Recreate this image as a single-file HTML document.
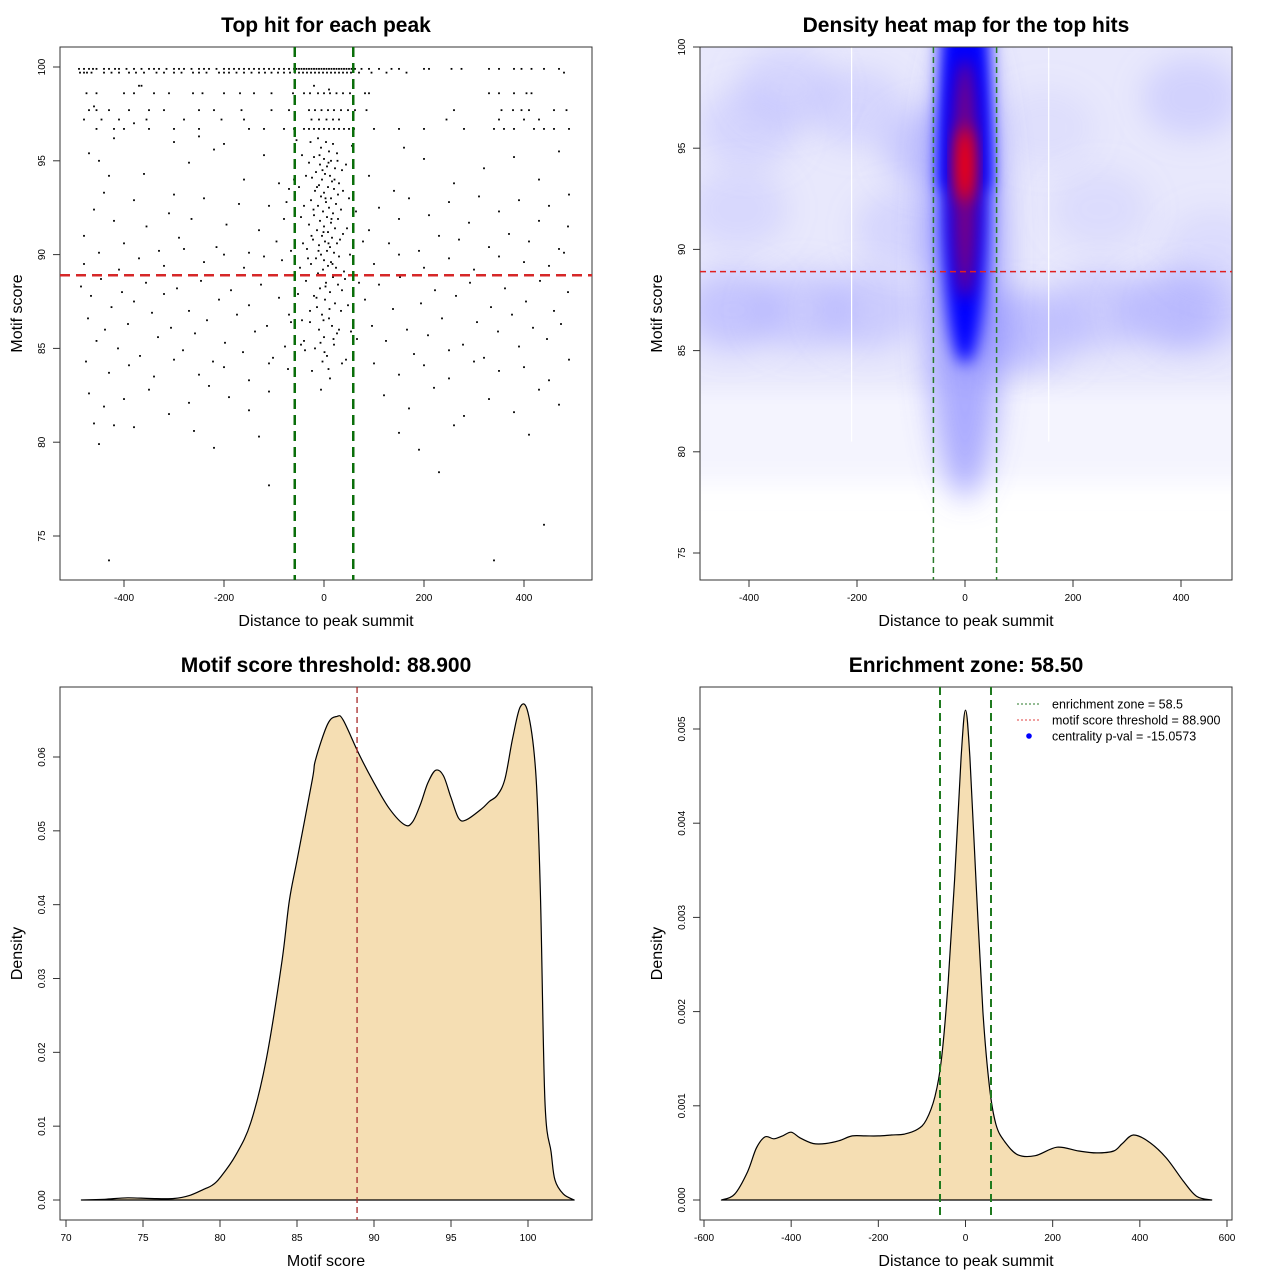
<!DOCTYPE html>
<html><head><meta charset="utf-8">
<style>
html,body{margin:0;padding:0;background:#fff;}
svg{display:block;font-family:"Liberation Sans",sans-serif;}
</style></head>
<body>
<svg id="chart" width="1280" height="1280" viewBox="0 0 1280 1280" xmlns="http://www.w3.org/2000/svg">
<defs>
<filter id="blur15" x="-50%" y="-50%" width="200%" height="200%"><feGaussianBlur stdDeviation="15"/></filter>
<filter id="blur8" x="-50%" y="-50%" width="200%" height="200%"><feGaussianBlur stdDeviation="8"/></filter>
<filter id="blur5" x="-50%" y="-50%" width="200%" height="200%"><feGaussianBlur stdDeviation="5"/></filter>
<filter id="blur12" x="-50%" y="-50%" width="200%" height="200%"><feGaussianBlur stdDeviation="12"/></filter>
<clipPath id="clip2"><rect x="700" y="47" width="532" height="533"/></clipPath>
</defs>
<g id="root"></g>
</svg>
<script>
// ---------- Panel 1 data: top hits as [distance, score] pairs ----------
const topRowHits = [
[-490,99.9],[-480,99.9],[-470,99.9],[-462,99.9],[-455,99.9],[-440,99.9],[-430,99.9],[-418,99.9],[-410,99.9],[-395,99.9],[-380,99.9],[-365,99.9],[-350,99.9],[-340,99.9],[-330,99.9],[-315,99.9],[-300,99.9],[-290,99.9],[-280,99.9],[-265,99.9],[-250,99.9],[-240,99.9],[-230,99.9],[-215,99.9],[-200,99.9],[-190,99.9],[-180,99.9],[-170,99.9],[-160,99.9],[-150,99.9],[-140,99.9],[-130,99.9],[-120,99.9],[-110,99.9],[-100,99.9],[-90,99.9],[-80,99.9],[-70,99.9],[-60,99.9],[-55,99.9],[-50,99.9],[-45,99.9],[-40,99.9],[-35,99.9],[-30,99.9],[-25,99.9],[-20,99.9],[-15,99.9],[-10,99.9],[-5,99.9],[0,99.9],[5,99.9],[10,99.9],[15,99.9],[20,99.9],[25,99.9],[30,99.9],[35,99.9],[40,99.9],[45,99.9],[50,99.9],[55,99.9],[62,99.9],[75,99.9],[90,99.9],[110,99.9],[135,99.9],[150,99.9],[200,99.9],[210,99.9],[255,99.9],[275,99.9],[330,99.9],[350,99.9],[380,99.9],[395,99.9],[415,99.9],[440,99.9],[470,99.9],
[-488,99.7],[-480,99.7],[-474,99.7],[-465,99.7],[-440,99.7],[-425,99.7],[-410,99.7],[-390,99.7],[-376,99.7],[-360,99.7],[-335,99.7],[-320,99.7],[-300,99.7],[-285,99.7],[-262,99.7],[-250,99.7],[-235,99.7],[-210,99.7],[-200,99.7],[-190,99.7],[-175,99.7],[-160,99.7],[-145,99.7],[-130,99.7],[-118,99.7],[-105,99.7],[-92,99.7],[-80,99.7],[-68,99.7],[-58,99.7],[-50,99.7],[-42,99.7],[-34,99.7],[-26,99.7],[-18,99.7],[-10,99.7],[-2,99.7],[6,99.7],[14,99.7],[22,99.7],[30,99.7],[38,99.7],[46,99.7],[54,99.7],[70,99.7],[95,99.7],[125,99.7],[165,99.7],[480,99.7]
];
const levelRowHits = [
[-370,99.0],[-365,99.0],[-20,99.0],[10,98.8],[-40,98.6],[-475,98.6],[-455,98.6],[-400,98.6],[-380,98.6],[-340,98.6],[-310,98.6],[-262,98.6],[-243,98.6],[-200,98.6],[-168,98.6],[-140,98.6],[-105,98.6],[-62,98.6],[-28,98.6],[-12,98.6],[0,98.6],[12,98.6],[25,98.6],[38,98.6],[52,98.6],[82,98.6],[90,98.6],[330,98.6],[350,98.6],[380,98.6],[405,98.6],[415,98.6],
[-470,97.7],[-455,97.7],[-430,97.7],[-390,97.7],[-350,97.7],[-320,97.7],[-250,97.7],[-220,97.7],[-165,97.7],[-105,97.7],[-70,97.7],[-30,97.7],[-18,97.7],[-5,97.7],[8,97.7],[20,97.7],[34,97.7],[48,97.7],[62,97.7],[85,97.7],[260,97.7],[355,97.7],[378,97.7],[395,97.7],[410,97.7],[460,97.7],[485,97.7],
[-480,97.2],[-445,97.2],[-410,97.2],[-355,97.2],[-280,97.2],[-205,97.2],[-160,97.2],[-25,97.2],[-10,97.2],[5,97.2],[18,97.2],[30,97.2],[245,97.2],[350,97.2],[400,97.2],[430,97.2],
[-455,96.7],[-420,96.7],[-400,96.7],[-350,96.7],[-300,96.7],[-250,96.7],[-150,96.7],[-120,96.7],[-80,96.7],[-60,96.7],[-40,96.7],[-30,96.7],[-20,96.7],[-10,96.7],[0,96.7],[10,96.7],[20,96.7],[30,96.7],[40,96.7],[50,96.7],[60,96.7],[100,96.7],[150,96.7],[200,96.7],[280,96.7],[340,96.7],[360,96.7],[380,96.7],[420,96.7],[440,96.7],[460,96.7],[490,96.7]
];
const centerHits = [
[-12,96.2],[4,96.0],[18,95.9],[-6,95.7],[10,95.5],[26,95.4],[-20,95.2],[0,95.1],[14,95.0],[-30,94.9],[-8,94.8],[6,94.7],[22,94.6],[36,94.5],[-16,94.4],[2,94.3],[12,94.2],[-24,94.1],[-4,94.0],[16,93.9],[30,93.8],[-10,93.7],[8,93.6],[20,93.5],[-18,93.4],[0,93.3],[28,93.2],[-6,93.1],[14,93.0],[-26,92.9],[4,92.8],[24,92.7],[-12,92.6],[10,92.5],[34,92.4],[-2,92.3],[18,92.2],[-20,92.1],[6,92.0],[28,91.9],[-8,91.8],[14,91.7],[-30,91.6],[0,91.5],[22,91.4],[-14,91.3],[8,91.2],[38,91.1],[-4,91.0],[16,90.9],[-22,90.8],[2,90.7],[26,90.6],[-10,90.5],[12,90.4],[-34,90.3],[6,90.2],[20,90.1],[-6,90.0],[30,89.9],[-16,89.8],[0,89.7],[14,89.6],[-26,89.5],[8,89.4],[24,89.3],[-2,89.2],[40,89.1],[-12,89.0],[18,88.8],[-36,88.6],[4,88.5],[28,88.4],[-8,88.2],[12,88.0],[-20,87.8],[2,87.6],[22,87.4],[-14,87.2],[34,87.0],[-4,86.8],[10,86.6],[-28,86.4],[16,86.2],[-10,86.0],[26,85.8],[0,85.6],[-40,85.4],[20,85.2],[-18,85.0],[6,84.6],[36,84.2],[-24,83.8],[12,83.4],[-6,82.8],
[-44,95.3],[44,94.8],[-50,93.6],[50,93.0],[-46,92.0],[46,91.4],[-42,90.6],[52,90.0],[-48,89.3],[42,88.7],[-52,87.9],[48,87.3],[-44,86.5],[54,85.9],[-38,84.9],[44,84.4],[-55,96.1],[56,95.8],[-36,94.2],[38,93.4],[-40,92.6],[32,90.8],[-32,89.8],[36,88.1],[-28,87.0],[30,86.0],[-46,85.2],[-60,94.0],[64,92.3],[-66,90.2],[70,88.5],[-70,86.8],[66,85.5],[-75,92.8],[78,90.7],
[-9,95.3],[9,94.9],[-3,94.5],[21,94.0],[-14,93.6],[3,93.0],[-21,92.4],[15,91.9],[-1,91.2],[9,90.6],[-11,90.2],[17,89.5],[-5,88.9],[3,88.3],[-15,87.7],[11,87.1],[-1,86.5],[19,85.5],[-7,85.3],[1,84.8],[9,83.9],[-3,84.3],[25,88.9],[-25,91.0],[27,95.0],[-27,96.0]
];
const leftHits = [
[-470,95.4],[-450,95.0],[-430,94.2],[-360,94.3],[-300,93.2],[-270,94.9],[-220,95.6],[-160,94.0],[-120,95.3],[-90,93.8],
[-480,91.0],[-460,92.4],[-440,93.3],[-420,91.8],[-400,90.6],[-380,92.9],[-355,91.5],[-330,90.2],[-310,92.2],[-290,90.9],[-265,91.9],[-240,93.0],[-215,90.4],[-195,91.6],[-170,92.7],[-150,90.1],[-130,91.3],[-110,92.6],[-95,90.7],[-80,91.9],[-70,93.5],
[-486,88.3],[-472,86.6],[-466,87.8],[-455,85.4],[-446,88.7],[-438,86.0],[-425,87.2],[-412,85.0],[-404,88.0],[-392,86.3],[-380,87.5],[-368,84.6],[-356,88.5],[-344,86.9],[-332,85.6],[-320,87.9],[-306,86.1],[-294,88.2],[-282,84.9],[-270,87.0],[-258,85.8],[-246,88.6],[-234,86.5],[-222,84.3],[-210,87.6],[-198,85.3],[-186,88.1],[-174,86.8],[-162,84.8],[-150,87.3],[-138,85.9],[-126,88.4],[-114,86.2],[-102,84.5],[-90,87.7],[-78,85.1],[-66,86.4],[-476,84.3],[-430,83.7],[-390,84.1],[-340,83.5],[-300,84.4],[-250,83.6],[-200,84.0],[-150,83.3],[-110,84.2],[-72,83.9],
[-480,89.5],[-450,90.1],[-410,89.2],[-370,89.8],[-320,89.4],[-280,90.3],[-240,89.6],[-200,90.0],[-160,89.3],[-120,89.9],[-84,89.7],
[-470,82.6],[-440,81.9],[-400,82.3],[-350,82.8],[-310,81.5],[-270,82.1],[-230,83.0],[-190,82.4],[-150,81.7],[-110,82.7],[-460,81.0],[-380,80.8],[-260,80.6],[-130,80.3],[-450,79.9],[-220,79.7],[-460,97.9],[-420,96.2],[-300,96.0],[-200,95.9],[-380,97.0],[-250,96.3]
];
const rightHits = [
[90,94.2],[140,93.4],[200,95.1],[260,93.8],[320,94.6],[380,95.2],[430,94.0],[470,95.5],[490,93.2],[160,95.7],
[90,91.3],[110,92.5],[130,90.6],[150,91.9],[170,93.0],[190,90.2],[210,92.1],[230,91.0],[250,92.8],[270,90.8],[290,91.7],[310,93.1],[330,90.4],[350,92.3],[370,91.1],[390,92.9],[410,90.7],[430,91.8],[450,92.6],[470,90.3],[488,91.5],
[82,87.6],[96,86.2],[110,88.4],[124,85.4],[138,87.1],[152,88.8],[166,86.0],[180,84.7],[194,87.4],[208,85.7],[222,88.1],[236,86.6],[250,84.9],[264,87.8],[278,85.2],[292,88.5],[306,86.4],[320,84.5],[334,87.2],[348,85.9],[362,88.2],[376,86.8],[390,85.1],[404,87.5],[418,86.1],[432,88.6],[446,85.5],[460,87.0],[474,86.3],[488,88.0],[100,84.2],[150,83.6],[200,84.1],[250,83.4],[300,84.3],[350,83.8],[400,84.0],[450,83.3],[490,84.4],
[100,89.5],[150,90.0],[200,89.3],[250,89.8],[300,89.2],[350,89.9],[400,89.6],[450,89.4],[480,90.1],
[120,82.5],[170,81.8],[220,82.9],[280,81.4],[330,82.3],[380,81.6],[430,82.8],[470,82.0],[150,80.5],[260,80.9],[410,80.4],[230,78.4],[190,79.6],[340,73.7],[440,75.6],[-110,77.7],[-430,73.7],[-420,80.9]
];
// ---------- Panel 2: heat map density blobs ----------
const blobDist  = [-430,-300,-180,-110,-400,-200,-60,60,130,250,380,440,420,250,-420,150,460,-330];
const blobScore = [87,87,87,91,96,97,95,86,86,87,87,87,97.5,92,92,96,90,98];
const blobLevel = [0.55,0.45,0.45,0.3,0.3,0.3,0.5,0.45,0.45,0.45,0.55,0.4,0.35,0.2,0.25,0.15,0.2,0.3];
const coreDist = [0];
const coreScore = [94.2];
// ---------- Panel 3: motif score density ----------
const scoreX = [71,72.5,74,75.5,77,78,79,79.5,80,81,82,83,84,84.5,85,86,86.2,87,87.6,88,89,90,91,92,92.5,93,93.5,94,94.5,95,95.5,96,97,97.5,98,98.5,99,99.5,100,100.5,100.8,101.1,101.5,101.75,102.3,103];
const scoreY = [0,0.0001,0.0003,0.0002,0.0002,0.0006,0.0015,0.002,0.003,0.006,0.0105,0.019,0.032,0.0405,0.046,0.0570,0.0596,0.0645,0.0655,0.065,0.0605,0.0565,0.053,0.0508,0.0512,0.0535,0.0565,0.0582,0.0575,0.0545,0.0517,0.0515,0.053,0.054,0.0548,0.057,0.0625,0.0668,0.066,0.058,0.042,0.0135,0.0065,0.0027,0.0008,0];
const scoreThreshold = [88.9];
// ---------- Panel 4: distance density ----------
const distX = [-560,-530,-500,-480,-460,-440,-420,-400,-380,-350,-320,-290,-260,-230,-200,-170,-140,-110,-90,-70,-55,-40,-25,-10,0,10,25,40,55,70,90,120,160,210,260,300,340,360,385,420,460,500,530,565];
const distY = [0,0.00006,0.0003,0.00055,0.00067,0.00065,0.00068,0.00072,0.00066,0.0006,0.0006,0.00063,0.00068,0.00068,0.00068,0.00069,0.0007,0.00075,0.00085,0.0011,0.0015,0.0023,0.0034,0.0047,0.0052,0.0047,0.0033,0.002,0.0012,0.0008,0.00062,0.00048,0.00047,0.00056,0.00052,0.0005,0.00052,0.0006,0.00069,0.00062,0.00045,0.0002,0.00004,0];
const enrichZone = [58.5];
const legendLabels = ["enrichment zone = 58.5","motif score threshold = 88.900","centrality p-val = -15.0573"];

const NS = "http://www.w3.org/2000/svg";
const root = document.getElementById('root');
function mk(tag, attrs, parent){
  const e = document.createElementNS(NS, tag);
  for (const k in attrs) e.setAttribute(k, attrs[k]);
  (parent||root).appendChild(e);
  return e;
}
function lin(d0,d1,p0,p1){ return v => p0 + (v-d0)*(p1-p0)/(d1-d0); }

function axes(P){
  const g = mk('g',{});
  
  
  const fr = mk('rect',{x:P.l,y:P.t,width:P.r-P.l,height:P.b-P.t,fill:'none',stroke:'#333','stroke-width':1},g);
  
  
  const xs=P.xt, ys=P.yt;
  mk('line',{x1:P.x(xs[0]),x2:P.x(xs[xs.length-1]),y1:P.b,y2:P.b,stroke:'#333'},g);
  xs.forEach((v,i)=>{
    mk('line',{x1:P.x(v),x2:P.x(v),y1:P.b,y2:P.b+7,stroke:'#333'},g);
    const t = mk('text',{x:P.x(v),y:P.b+21,'font-size':10,'text-anchor':'middle',fill:'#000'},g);
    t.textContent = P.xl[i];
    
    
  });
  ys.forEach((v,i)=>{
    mk('line',{x1:P.l-7,x2:P.l,y1:P.y(v),y2:P.y(v),stroke:'#333'},g);
    const t = mk('text',{x:P.l-15,y:P.y(v),'font-size':10,'text-anchor':'middle',fill:'#000',transform:`rotate(-90 ${P.l-15} ${P.y(v)})`},g);
    t.textContent = P.yl[i];
    
    
  });
  mk('line',{x1:P.l,x2:P.l,y1:P.y(ys[0]),y2:P.y(ys[ys.length-1]),stroke:'#333'},g);
  const ti = mk('text',{x:(P.l+P.r)/2,y:P.t-15,'font-size':21,'font-weight':'bold','text-anchor':'middle'},g);
  ti.textContent = P.title;
  
  
  const xt = mk('text',{x:(P.l+P.r)/2,y:P.b+46,'font-size':16,'text-anchor':'middle'},g);
  xt.textContent = P.xtitle;
  
  
  const yx = P.l-38, yy=(P.t+P.b)/2;
  const yt = mk('text',{x:yx,y:yy,'font-size':16,'text-anchor':'middle',transform:`rotate(-90 ${yx} ${yy})`},g);
  yt.textContent = P.ytitle;
  
  
}

// ===== Panel 1 =====
const P1 = {name:'scatter',l:60,r:592,t:47,b:580,x:lin(0,400,324,524),y:lin(75,100,536,67),
  xt:[-400,-200,0,200,400],xl:['-400','-200','0','200','400'],yt:[75,80,85,90,95,100],yl:['75','80','85','90','95','100'],
  title:'Top hit for each peak',xtitle:'Distance to peak summit',ytitle:'Motif score'};
const g1 = mk('g',{});


[topRowHits, levelRowHits, centerHits, leftHits, rightHits].forEach(group=>{
  group.forEach(p=>{
    const c = mk('rect',{x:P1.x(p[0])-0.9,y:P1.y(p[1])-0.9,width:1.8,height:1.8,fill:'#000'},g1);
    
    
  });
});
axes(P1);
const h1 = mk('line',{x1:P1.l,x2:P1.r,y1:P1.y(scoreThreshold[0]),y2:P1.y(scoreThreshold[0]),stroke:'#d62728','stroke-width':2.5,'stroke-dasharray':'10,6'});


[-enrichZone[0],enrichZone[0]].forEach(v=>{
  const l = mk('line',{x1:P1.x(v),x2:P1.x(v),y1:P1.t,y2:P1.b,stroke:'#0a6e0a','stroke-width':2.5,'stroke-dasharray':'10,6'});
  
  
});

// ===== Panel 2 =====
const P2 = {name:'heatmap',l:700,r:1232,t:47,b:580,x:lin(0,400,965,1181),y:lin(75,100,553,47),
  xt:[-400,-200,0,200,400],xl:['-400','-200','0','200','400'],yt:[75,80,85,90,95,100],yl:['75','80','85','90','95','100'],
  title:'Density heat map for the top hits',xtitle:'Distance to peak summit',ytitle:'Motif score'};
const g2 = mk('g',{'clip-path':'url(#clip2)'});


const bg = mk('rect',{x:P2.l-30,y:P2.y(101.5),width:P2.r-P2.l+60,height:P2.y(82)-P2.y(101.5),fill:'#e8e8fc',filter:'url(#blur15)'},g2);


const bg2 = mk('rect',{x:P2.l-30,y:P2.y(83),width:P2.r-P2.l+60,height:P2.y(78.5)-P2.y(83),fill:'#f4f4fe',filter:'url(#blur12)'},g2);


blobDist.forEach((d,i)=>{
  const e = mk('ellipse',{cx:P2.x(d),cy:P2.y(blobScore[i]),rx:50,ry:40,fill:'#a8a8ff','fill-opacity':blobLevel[i],filter:'url(#blur15)'},g2);
  
  
});
[-210,155].forEach(d=>{
  const l = mk('line',{x1:P2.x(d),x2:P2.x(d),y1:P2.t,y2:P2.y(80.5),stroke:'#fff','stroke-width':1.2},g2);
  
  
});
const halo = mk('ellipse',{cx:P2.x(coreDist[0]),cy:P2.y(89.5),rx:40,ry:240,fill:'#7070ff','fill-opacity':0.55,filter:'url(#blur15)'},g2);


const col = mk('ellipse',{cx:P2.x(coreDist[0]),cy:P2.y(92.5),rx:24,ry:165,fill:'#0000ff',filter:'url(#blur8)'},g2);


const colTop = mk('rect',{x:P2.x(coreDist[0])-24,y:P2.y(102),width:48,height:P2.y(93)-P2.y(102),fill:'#0000ff',filter:'url(#blur8)'},g2);


const purp = mk('ellipse',{cx:P2.x(coreDist[0]),cy:P2.y(93.5),rx:12,ry:120,fill:'#90006a','fill-opacity':0.85,filter:'url(#blur8)'},g2);


const red = mk('ellipse',{cx:P2.x(coreDist[0]),cy:P2.y(coreScore[0]),rx:9,ry:38,fill:'#ff0000',filter:'url(#blur8)'},g2);


axes(P2);
const h2 = mk('line',{x1:P2.l,x2:P2.r,y1:P2.y(scoreThreshold[0]),y2:P2.y(scoreThreshold[0]),stroke:'#e02020','stroke-width':1.5,'stroke-dasharray':'6,4'});


[-enrichZone[0],enrichZone[0]].forEach(v=>{
  const l = mk('line',{x1:P2.x(v),x2:P2.x(v),y1:P2.t,y2:P2.b,stroke:'#2a7a2a','stroke-width':1.5,'stroke-dasharray':'6,4'});
  
  
});

// ===== Panel 3 =====
const P3 = {name:'score-density',l:60,r:592,t:687,b:1220,x:lin(70,100,66,528),y:lin(0,0.06,1200,757),
  xt:[70,75,80,85,90,95,100],xl:['70','75','80','85','90','95','100'],yt:[0,0.01,0.02,0.03,0.04,0.05,0.06],yl:['0.00','0.01','0.02','0.03','0.04','0.05','0.06'],
  title:'Motif score threshold: 88.900',xtitle:'Motif score',ytitle:'Density'};
function curvePath(P,xs,ys){
  const pts = xs.map((v,i)=>[P.x(v),P.y(ys[i])]);
  let d = 'M'+pts[0][0].toFixed(1)+','+pts[0][1].toFixed(1);
  for(let i=0;i<pts.length-1;i++){
    const p0=pts[Math.max(0,i-1)],p1=pts[i],p2=pts[i+1],p3=pts[Math.min(pts.length-1,i+2)];
    const c1=[p1[0]+(p2[0]-p0[0])/6,p1[1]+(p2[1]-p0[1])/6];
    const c2=[p2[0]-(p3[0]-p1[0])/6,p2[1]-(p3[1]-p1[1])/6];
    d+='C'+c1[0].toFixed(1)+','+c1[1].toFixed(1)+' '+c2[0].toFixed(1)+','+c2[1].toFixed(1)+' '+p2[0].toFixed(1)+','+p2[1].toFixed(1);
  }
  return d;
}
const p3 = mk('path',{d:curvePath(P3,scoreX,scoreY)+'Z',fill:'#f5deb3',stroke:'#000','stroke-width':1.2,'stroke-linejoin':'round'});


axes(P3);
const v3 = mk('line',{x1:P3.x(scoreThreshold[0]),x2:P3.x(scoreThreshold[0]),y1:P3.t,y2:P3.b,stroke:'#a52a2a','stroke-width':1.3,'stroke-dasharray':'6,4'});



// ===== Panel 4 =====
const P4 = {name:'distance-density',l:700,r:1232,t:687,b:1220,x:lin(0,600,965.5,1227),y:lin(0,0.005,1200,729),
  xt:[-600,-400,-200,0,200,400,600],xl:['-600','-400','-200','0','200','400','600'],yt:[0,0.001,0.002,0.003,0.004,0.005],yl:['0.000','0.001','0.002','0.003','0.004','0.005'],
  title:'Enrichment zone: 58.50',xtitle:'Distance to peak summit',ytitle:'Density'};
const p4 = mk('path',{d:curvePath(P4,distX,distY)+'Z',fill:'#f5deb3',stroke:'#000','stroke-width':1.2,'stroke-linejoin':'round'});


axes(P4);
[-enrichZone[0],enrichZone[0]].forEach(v=>{
  const l = mk('line',{x1:P4.x(v),x2:P4.x(v),y1:P4.t,y2:P4.b,stroke:'#1f7a1f','stroke-width':2,'stroke-dasharray':'8,5'});
  
  
});
const lg = mk('g',{});


const lgColors=['#2a7a2a','#e04040','#0000ff'];
legendLabels.forEach((s,i)=>{
  const y = 704 + i*16;
  let m;
  if(i<2){ m = mk('line',{x1:1017,x2:1041,y1:y,y2:y,stroke:lgColors[i],'stroke-width':1,'stroke-dasharray':'2,2'},lg); }
  else { m = mk('circle',{cx:1029,cy:y,r:2.8,fill:lgColors[i]},lg); }
  
  
  const t = mk('text',{x:1052,y:y+4.5,'font-size':12.5},lg);
  t.textContent = s;
  
  
});
</script>
</body></html>
